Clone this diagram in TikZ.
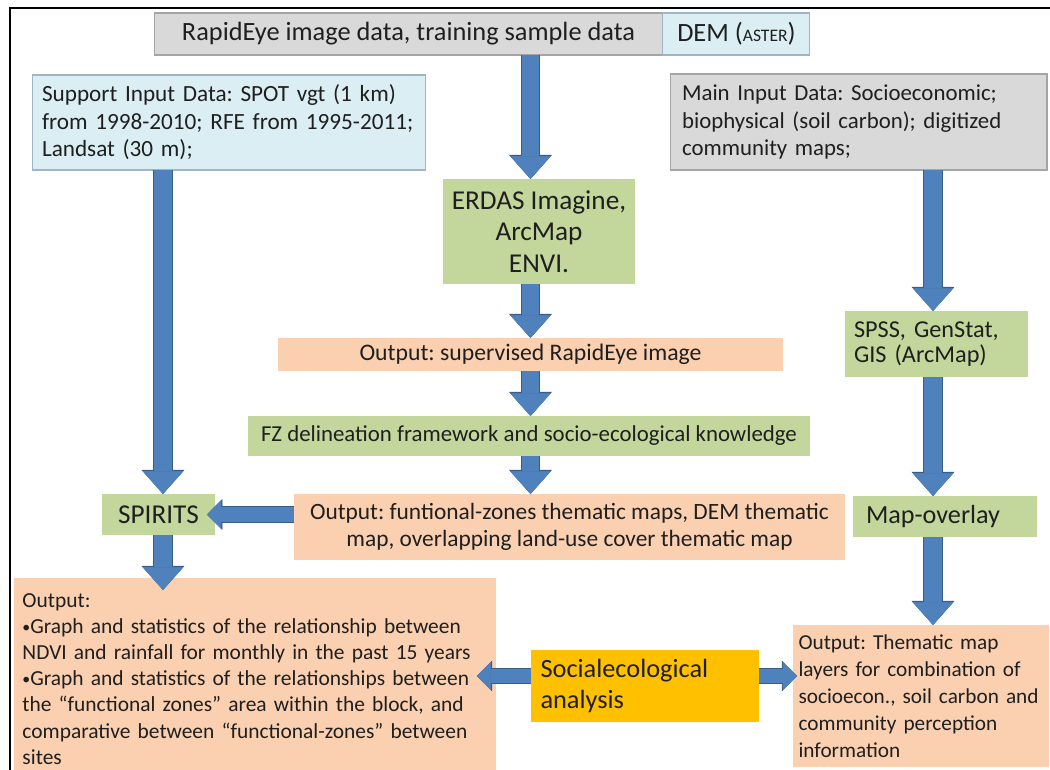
\documentclass[tikz,border=0pt]{standalone}
\usepackage{fontspec}
\setmainfont{Carlito}
\usetikzlibrary{arrows.meta}
\frenchspacing

\definecolor{boxgrey}{HTML}{D9D9D9}
\definecolor{edgegrey}{HTML}{A5A5A5}
\definecolor{boxblue}{HTML}{DBEEF4}
\definecolor{edgeblue}{HTML}{9FB6C2}
\definecolor{boxgreen}{HTML}{C3D69B}
\definecolor{boxpeach}{HTML}{FAD0B0}
\definecolor{boxyellow}{HTML}{FFC000}
\definecolor{arrowblue}{HTML}{4F81BD}
\definecolor{arrowedge}{HTML}{385D8A}

\newcommand{\bul}{{\fontsize{9}{9}\selectfont\raisebox{0.2ex}{•}}}

\begin{document}
\begin{tikzpicture}[%
  x=0.02cm, y=-0.02cm,
  box/.style={inner sep=0pt, outer sep=0pt, text=black!88, align=center},
  greybox/.style={box, fill=boxgrey, draw=edgegrey, line width=0.6pt},
  bluebox/.style={box, fill=boxblue, draw=edgeblue, line width=0.6pt},
  greenbox/.style={box, fill=boxgreen},
  peachbox/.style={box, fill=boxpeach},
  yellowbox/.style={box, fill=boxyellow},
  lefttext/.style={align=left},
  blk/.style={line width=10.2pt, draw=arrowblue,
    -{Triangle[width=23pt,length=13pt,line width=0.3pt]},
    preaction={draw=arrowedge, line width=11.2pt,
      -{Triangle[width=24.5pt,length=13.8pt,line width=0.3pt]}}},
  blkside/.style={line width=8.5pt, draw=arrowblue,
    -{Triangle[width=16pt,length=8pt,line width=0.3pt]},
    preaction={draw=arrowedge, line width=9.5pt,
      -{Triangle[width=17.5pt,length=8.7pt,line width=0.3pt]}}},
]

  \useasboundingbox (0,0) rectangle (1050,769);
  \clip (0,0) rectangle (1050,769);

  % frame
  \draw[line width=1.4pt] (10,8) rectangle (1080,800);

  % top row
  \node[greybox, minimum width=10.18cm, minimum height=0.84cm,
    font=\fontsize{15}{17}\selectfont] (rapid) at (408.5,34)
    {RapidEye image data, training sample data};
  \node[bluebox, minimum width=2.94cm, minimum height=0.84cm, anchor=west,
    font=\fontsize{15}{17}\selectfont] (dem) at (rapid.east)
    {DEM ({\fontsize{10}{12}\selectfont ASTER})};

  % input boxes
  \node[bluebox, lefttext, minimum width=7.88cm, minimum height=1.9cm,
    text width=7.48cm, font=\fontsize{13.2}{15.6}\selectfont] (support) at (229,122.5)
    {Support Input Data: SPOT vgt (1 km)\\ from 1998-2010; RFE from 1995-2011;\\ Landsat (30 m);};
  \node[greybox, lefttext, minimum width=7.54cm, minimum height=1.92cm,
    text width=7.06cm, font=\fontsize{13}{15.6}\selectfont] (main) at (858.5,122)
    {Main Input Data: Socioeconomic;\\ biophysical (soil carbon); digitized\\ community maps;};

  % middle column
  \node[greenbox, minimum width=3.84cm, minimum height=2.1cm,
    font=\fontsize{15.5}{18}\selectfont] (erdas) at (539,231.5)
    {ERDAS Imagine,\\ ArcMap\\ ENVI.};
  \node[peachbox, minimum width=10.1cm, minimum height=0.66cm,
    font=\fontsize{13.5}{15}\selectfont] (sup) at (530.5,354.5)
    {Output: supervised RapidEye image};
  \node[greenbox, minimum width=11.24cm, minimum height=0.8cm,
    font=\fontsize{13}{15}\selectfont] (fz) at (529,436)
    {FZ delineation framework and socio-ecological knowledge};
  \node[peachbox, minimum width=11.02cm, minimum height=1.32cm,
    font=\fontsize{13.3}{15.3}\selectfont] (outfz) at (569.5,527)
    {Output: funtional-zones thematic maps, DEM thematic\\ map, overlapping land-use cover thematic map};

  % left column
  \node[greenbox, minimum width=2.26cm, minimum height=0.82cm,
    font=\fontsize{15.5}{17}\selectfont] (spirits) at (158.5,514.5) {SPIRITS};
  \node[peachbox, lefttext, anchor=north west, minimum width=9.64cm,
    minimum height=4.04cm, text width=9.3cm,
    font=\fontsize{12.2}{14.85}\selectfont] (outleft) at (14,578)
    {Output:\\ \bul Graph and statistics of the relationship between\\
     NDVI and rainfall for monthly in the past 15 years\\
     \bul Graph and statistics of the relationships between\\
     the “functional zones” area within the block, and\\
     comparative between “functional-zones” between\\ sites};

  % right column
  \coordinate (rcol) at (933,0);
  \node[greenbox, lefttext, minimum width=3.66cm, minimum height=1.32cm,
    text width=3.3cm, font=\fontsize{13.8}{14.5}\selectfont] (spss) at (936.5,344)
    {SPSS, GenStat,\\ GIS (ArcMap)};
  \node[greenbox, lefttext, minimum width=3.68cm, minimum height=0.82cm,
    text width=3.16cm, font=\fontsize{14.9}{17}\selectfont] (mapov) at (945,516.5) {Map-overlay};
  \node[peachbox, lefttext, minimum width=5.12cm, minimum height=2.84cm,
    text width=4.9cm, font=\fontsize{12.1}{15.3}\selectfont] (outright) at (921,696)
    {Output: Thematic map\\ layers for combination of\\ socioecon., soil carbon and\\
     community perception\\ information};

  % bottom middle
  \node[yellowbox, lefttext, minimum width=4.58cm, minimum height=1.44cm,
    text width=4.18cm, font=\fontsize{15}{18}\selectfont] (social) at (645,686)
    {Socialecological\\ analysis};

  % arrows
  \draw[blk] (rapid.south -| sup.north) -- (erdas.north -| sup.north);
  \draw[blk] (erdas.south -| sup.north) -- (sup.north);
  \draw[blk] (sup.south) -- (fz.north -| sup.south);
  \draw[blk] (fz.south -| sup.south) -- (outfz.north -| sup.south);
  \draw[blk] ([xshift=0.09cm]support.south -| spirits.north) -- ([xshift=0.09cm]spirits.north);
  \draw[blkside, shorten >=-0.16cm] (outfz.west |- spirits.east) -- (spirits.east);
  \draw[blk, shorten >=-0.24cm] ([xshift=0.09cm]spirits.south) -- ([xshift=0.09cm]outleft.north -| spirits.south);

  \draw[blk] (main.south -| rcol) -- (spss.north -| rcol);
  \draw[blk] (spss.south -| rcol) -- (mapov.north -| rcol);
  \draw[blk] (mapov.south -| rcol) -- (outright.north -| rcol);

  \draw[blkside, shorten >=-0.38cm] ([yshift=0.2cm]social.west) -- ([yshift=0.2cm]outleft.east |- social.west);
  \draw[blkside, shorten >=-0.08cm] ([yshift=0.2cm]social.east) -- ([yshift=0.2cm]outright.west |- social.east);

\end{tikzpicture}
\end{document}
